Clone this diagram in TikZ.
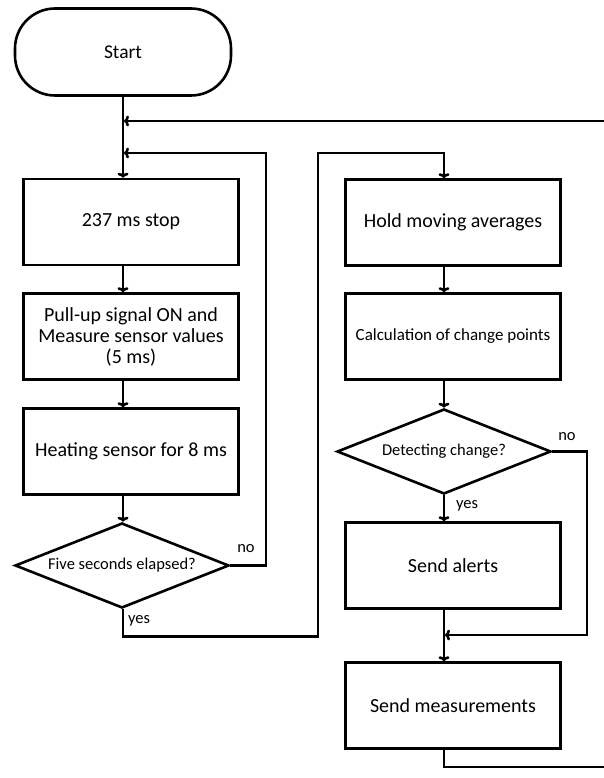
\documentclass[tikz,border=0pt]{standalone}
\usepackage{fontspec}
\setmainfont{Carlito}
\usepackage{tikz}
\usetikzlibrary{shapes,arrows.meta,positioning}

\begin{document}
\begin{tikzpicture}[x=1pt,y=-1pt]
\tikzstyle{terminal}=[rectangle, rounded corners=40pt, minimum width=216pt, minimum height=87pt, line width=2.6pt, draw=black, font=\fontsize{19.5}{23}\selectfont]
\tikzstyle{process}=[rectangle, minimum width=215pt, minimum height=86pt, inner sep=0pt, line width=2.6pt, draw=black, align=center, font=\fontsize{20}{21}\selectfont]
\tikzstyle{decision}=[diamond, aspect=2.5, minimum width=214pt, minimum height=85pt, inner sep=0pt, line width=2.6pt, draw=black, font=\fontsize{16.5}{18}\selectfont]
\tikzstyle{answer}=[inner sep=0pt, font=\fontsize{16.5}{18}\selectfont]
\tikzstyle{connect}=[-{To[length=5pt,width=11pt]}, line width=2.6pt]
\tikzstyle{line}=[line width=2.6pt]
\useasboundingbox (0,0) rectangle (604,778);
	\node[terminal] (start) at (123,52) {Start};
	\node[process] (stop) at (131,222) {237 ms stop};
	\node[process] (pullup) at (131,336.5) {Pull-up signal ON and\\Measure sensor values\\(5 ms)};
	\node[process] (heat) at (131,451.5) {Heating sensor for 8 ms};
	\node[decision] (five) at (122,565.5) {Five seconds elapsed?};
	\node[process] (hold) at (453,222.5) {Hold moving averages};
	\node[process, font=\fontsize{17}{18}\selectfont] (calc) at (453,336.5) {Calculation of change points};
	\node[decision] (detect) at (444,451.5) {Detecting change?};
	\node[process] (alerts) at (453,565.5) {Send alerts};
	\node[process] (send) at (453,705.5) {Send measurements};

	\node[answer] (no1) at (246,549) {no};
	\node[answer] (yes1) at (139,621) {yes};
	\node[answer] (no2) at (567,437) {no};
	\node[answer] (yes2) at (467,506) {yes};

	\coordinate (repeat) at (604,121);
	\coordinate (back) at (266,153);
	\coordinate (jump) at (318,153);
	\coordinate (skip) at (587,635);
	\coordinate (leave) at (604,767);

	\draw[connect] (start) -- (start |- stop.north);
	\draw[connect, shorten >=1pt] (repeat) -- (repeat -| start);
	\draw[connect, shorten >=1pt] (five.east) -| (back) -- (back -| start);
	\draw[connect] (stop.south -| start) -- (pullup.north -| start);
	\draw[connect] (pullup.south -| start) -- (heat.north -| start);
	\draw[connect] (heat.south -| start) -- (start |- five.north);
	\draw[connect] (start |- five.south) -- ++(0,27) -| (jump) -| (hold.north -| detect);
	\draw[connect] (hold.south -| detect) -- (calc.north -| detect);
	\draw[connect] (calc.south -| detect) -- (detect.north);
	\draw[connect] (detect.south) -- (alerts.north -| detect);
	\draw[connect] (alerts.south -| detect) -- (send.north -| detect);
	\draw[connect, shorten >=1pt] (detect.east) -| (skip) -- (skip -| detect);
	\draw[line] (send.south -| detect) |- (leave);
\end{tikzpicture}
\end{document}
